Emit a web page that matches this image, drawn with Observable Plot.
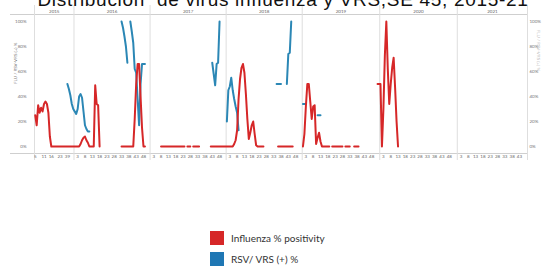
<!DOCTYPE html>
<html><head><meta charset="utf-8">
<script src="https://cdn.jsdelivr.net/npm/d3@7"></script>
<script src="https://cdn.jsdelivr.net/npm/@observablehq/plot@0.6"></script>
<style>
body{margin:0;background:#fff;width:542px;height:266px;overflow:hidden;position:relative;font-family:Lato,"Liberation Sans",sans-serif}
#chart{position:absolute;left:0;top:0}
#title{position:absolute;left:0;width:566px;top:-11px;text-align:center;font-size:19px;color:#111;white-space:nowrap;font-family:"Liberation Sans",sans-serif;letter-spacing:0.7px}
.lg{position:absolute;left:210px;height:14px;font-size:10px;color:#333;line-height:14px}
.lg i{display:inline-block;width:14px;height:14px;vertical-align:top;margin-right:7px}
</style></head><body>
<div id="chart"></div>
<div id="title">Distribución&nbsp; de virus influenza y VRS,SE 45, 2015-21</div>
<div class="lg" style="top:231px"><i style="background:#d62728"></i>Influenza % positivity</div>
<div class="lg" style="top:252px"><i style="background:#1f77b4"></i>RSV/ VRS (+) %</div>
<script>
const _ = null;
const years = [2015, 2016, 2017, 2018, 2019, 2020, 2021];
const weekCounts = [27, 52, 52, 52, 53, 53, 48];
const weeks2015 = [5,6,7,8,9,10,11,12,13,14,15,16,18,19,20,21,22,23,25,27,30,35,39,41,43,45,47];
const tickWeeks2015 = [5, 11, 16, 23, 39];
const tickWeeks = [3, 8, 13, 18, 23, 28, 33, 38, 43, 48];
const tickWeeks2021 = [3, 8, 13, 18, 23, 28, 33, 38, 43];
const yTicks = [0, 20, 40, 60, 80, 100];

const flu2015 = [25,17,33,27,31,28,34,36,34,27,8,0,0,0,0,0,0,0,0,0,0,0,0,0,0,0,0];
const rsv2015 = [_,_,_,_,_,_,_,_,_,_,_,_,_,_,_,_,_,_,_,_,_,_,50,46,41,34,30];

const flu2016 = [0,0,0,0,2,5,7,8,5,3,0,0,0,0,49,34,33,0,
  _,_,_,_,_,_,_,_,_,_,_,_,_,_,
  0,0,0,0,0,0,0,0,0,22,50,66,66,40,15,0,0,_,_,_];
const rsv2016 = [28,26,30,40,42,39,28,17,14,12,12,
  _,_,_,_,_,_,_,_,_,_,_,_,_,_,_,_,_,_,_,_,_,
  100,95,88,80,67,_,100,92,83,62,59,38,17,50,66,66,66,_,_,_];

const flu2017 = [_,_,_,_,_,_,_,0,0,0,0,0,0,0,0,0,0,0,0,0,0,0,0,0,_,0,0,0,_,0,0,0,0,0,
  _,_,_,_,_,_,_,0,0,0,0,0,0,0,0,0,0,0];
const rsv2017 = [_,_,_,_,_,_,_,_,_,_,_,_,_,_,_,_,_,_,_,_,_,_,_,_,_,_,_,_,_,_,_,_,_,_,_,_,_,_,_,_,_,_,
  67,58,49,66,67,100,_,_,_,_];

const flu2018 = [0,0,0,0,0,2,5,13,38,54,63,66,59,42,22,6,11,17,20,10,1,0,0,0,0,0,
  _,_,_,_,_,_,_,_,_,0,0,0,0,0,0,0,0,0,0,0,_,_,_,_,_,_];
const rsv2018 = [20,45,48,55,45,38,32,27,13,
  _,_,_,_,_,_,_,_,_,_,_,_,_,_,_,_,_,_,_,_,_,_,_,_,_,
  50,50,50,50,_,_,_,50,74,75,100,_,_,_,_,_,_,_];

const flu2019 = [0,10,32,50,50,36,22,32,33,2,7,11,4,0,0,0,0,0,0,_,0,0,0,0,0,0,0,0,_,0,0,0,0,_,_,0,0,0,0,
  _,_,_,_,_,_,_,_,_,_,_,_,50,50];
const rsv2019 = [34,34,34,_,_,_,_,_,_,_,25,25,25,
  _,_,_,_,_,_,_,_,_,_,_,_,_,_,_,_,_,_,_,_,_,_,_,_,_,_,_,_,_,_,_,_,_,_,_,_,_,_,_,_];

const flu2020 = [50,0,30,73,100,62,34,50,63,71,47,20,0,
  _,_,_,_,_,_,_,_,_,_,_,_,_,_,_,_,_,_,_,_,_,_,_,_,_,_,_,_,_,_,_,_,_,_,_,_,_,_,_,_];
const rsv2020 = [_,_,_,_,_,_,_,_,_,_,_,_,_,_,_,_,_,_,_,_,_,_,_,_,_,_,_,_,_,_,_,_,_,_,_,_,_,_,_,_,_,_,_,_,_,_,_,_,_,_,_,_,_];
const flu2021 = [_,_,_,_,_,_,_,_,_,_,_,_,_,_,_,_,_,_,_,_,_,_,_,_,_,_,_,_,_,_,_,_,_,_,_,_,_,_,_,_,_,_,_,_,_,_,_,_];
const rsv2021 = flu2021;

const fluByYear = [flu2015, flu2016, flu2017, flu2018, flu2019, flu2020, flu2021];
const rsvByYear = [rsv2015, rsv2016, rsv2017, rsv2018, rsv2019, rsv2020, rsv2021];

// build table
const offsets = [0];
weekCounts.forEach(n => offsets.push(offsets[offsets.length - 1] + n));
const rows = [];
years.forEach((yr, k) => {
  for (let j = 0; j < weekCounts[k]; j++) {
    rows.push({pos: offsets[k] + j + 0.5, flu: fluByYear[k][j], rsv: rsvByYear[k][j]});
  }
});
const yearRows = years.map((yr, k) => ({year: String(yr), mid: (offsets[k] + offsets[k + 1]) / 2}));
const tickRows = [];
years.forEach((yr, k) => {
  const list = yr === 2015 ? tickWeeks2015 : yr === 2021 ? tickWeeks2021 : tickWeeks;
  list.forEach(w => {
    const idx = yr === 2015 ? weeks2015.indexOf(w) : w - 1;
    tickRows.push({pos: offsets[k] + idx + 0.5, label: String(w)});
  });
});
const yDomain = [-5.6, 105.6];

const chart = Plot.plot({
  width: 542, height: 170,
  marginLeft: 34, marginRight: 15, marginTop: 14, marginBottom: 17,
  style: {fontFamily: "Lato, 'Liberation Sans', sans-serif", background: "transparent"},
  x: {domain: [0, offsets[offsets.length - 1]], axis: null},
  y: {domain: yDomain, axis: null},
  marks: [
    Plot.ruleY([yDomain[1], yDomain[0]], {stroke: "#cfcfcf", strokeWidth: 1, insetLeft: -24}),
    Plot.ruleX(offsets, {stroke: "#dedede", strokeWidth: 1, insetTop: -9, insetBottom: -7}),
    Plot.text(yearRows, {x: "mid", text: "year", frameAnchor: "top", dy: -4.5, fontSize: 4.5, fill: "#666"}),
    Plot.text(tickRows, {x: "pos", text: "label", frameAnchor: "bottom", dy: 4.5, fontSize: 4.5, fill: "#666"}),
    Plot.axisY(yTicks, {anchor: "left", tickSize: 0, tickPadding: 8, tickFormat: d => d + "%", fontSize: 4.5, color: "#777", label: null}),
    Plot.axisY(yTicks, {anchor: "right", tickSize: 0, tickPadding: 2, tickFormat: d => d + "%", fontSize: 4.5, color: "#777", label: null}),
    Plot.text(["FLU / RSV-VRS (+) %"], {frameAnchor: "left", dx: -19, rotate: -90, fontSize: 4.5, fill: "#777"}),
    Plot.text(["FLU / RSV-VRS (+) %"], {frameAnchor: "right", dx: 11, dy: -13, rotate: 90, fontSize: 4.5, fill: "#bbb"}),
    Plot.line(rows, {x: "pos", y: "rsv", stroke: "#2b87b5", strokeWidth: 2}),
    Plot.line(rows, {x: "pos", y: "flu", stroke: "#d62728", strokeWidth: 2})
  ]
});
document.getElementById("chart").appendChild(chart);
</script>
</body></html>
